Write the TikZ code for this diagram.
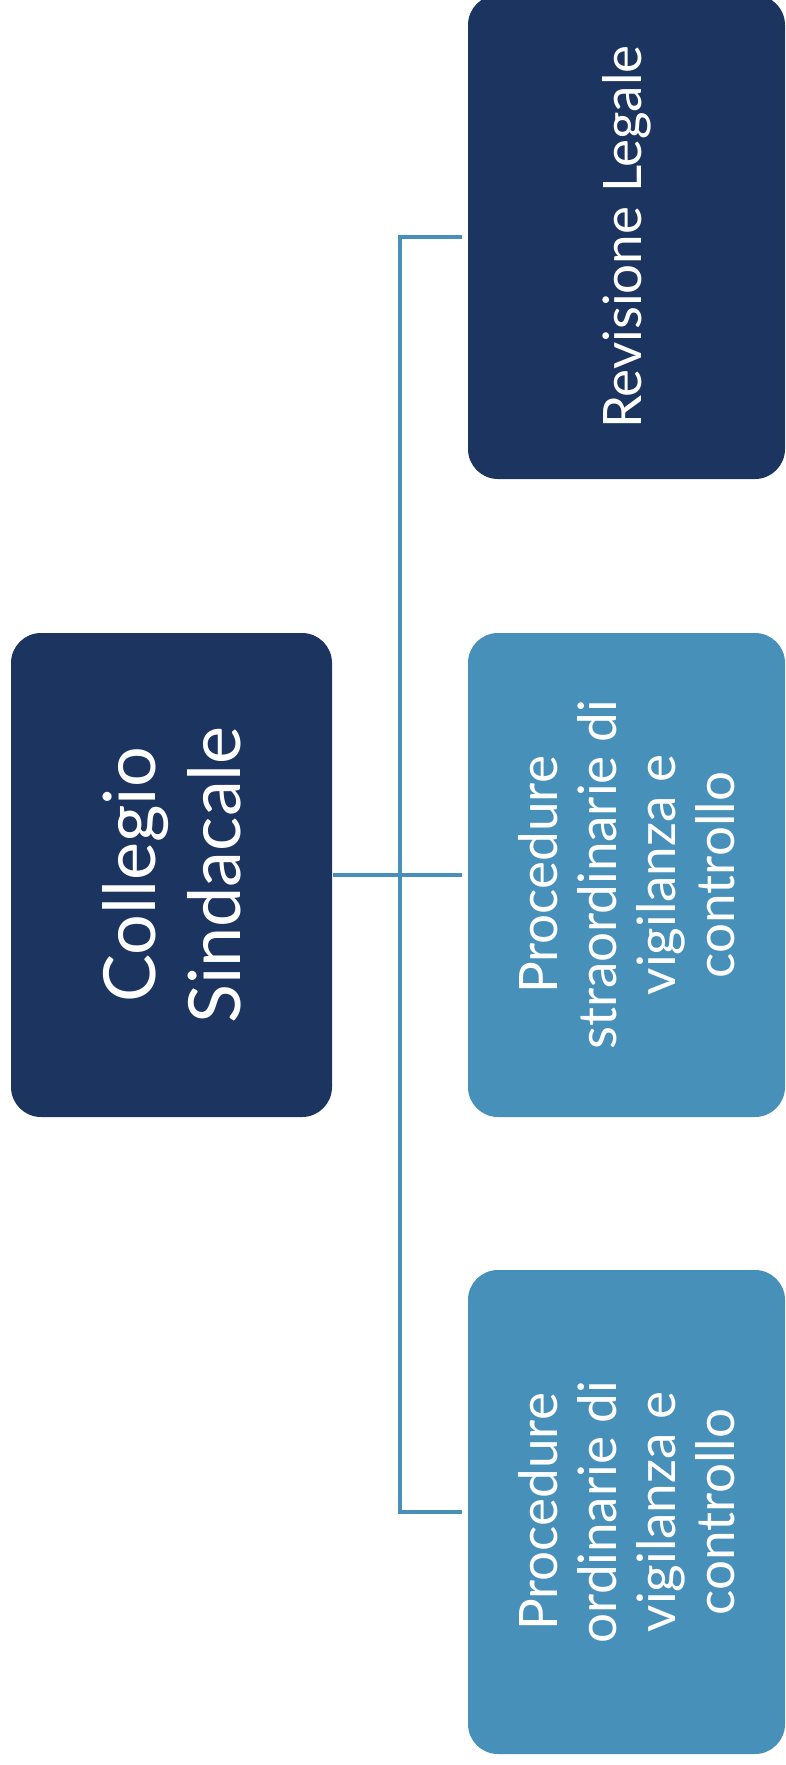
\documentclass[tikz,border=0pt]{standalone}
\usepackage{fontspec}
\setmainfont{Lato}
\definecolor{boardnavy}{RGB}{28,52,96}
\definecolor{boardblue}{RGB}{70,144,185}
\usetikzlibrary{positioning}

\begin{document}
\begin{tikzpicture}[x=1pt, y=-1pt,
    box/.style={rounded corners=30pt, rotate=90, text=white, align=center, inner sep=0pt, minimum width=484pt},
    link/.style={draw=boardblue, line width=4.5pt, shorten <=1pt, shorten >=6pt}]
    % page
    \fill[white] (0,0) rectangle (786,1765);
    \useasboundingbox (0,0) rectangle (786,1765);

    % root
    \node[box, fill=boardnavy, minimum height=321pt, font=\fontsize{72}{85}\selectfont] (root) at (171.5,875) {Collegio\\Sindacale};

    % three branches, top to bottom
    \node[box, fill=boardnavy, minimum height=317pt, font=\fontsize{53}{59}\selectfont] (legale) at (626.5,237) {Revisione Legale};
    \node[box, fill=boardblue, minimum height=317pt, font=\fontsize{53}{59}\selectfont] (straord) at (626.5,875) {Procedure\\straordinarie di\\vigilanza e\\controllo};
    \node[box, fill=boardblue, minimum height=317pt, font=\fontsize{53}{59}\selectfont] (ordin) at (626.5,1512) {Procedure\\ordinarie di\\vigilanza e\\controllo};

    % connectors
    \coordinate (spine) at (400,875);
    \draw[link, shorten <=6pt] (legale.north) -| (spine) |- (ordin.north);
    \draw[link] (root.south) -- (straord.north);
\end{tikzpicture}
\end{document}
